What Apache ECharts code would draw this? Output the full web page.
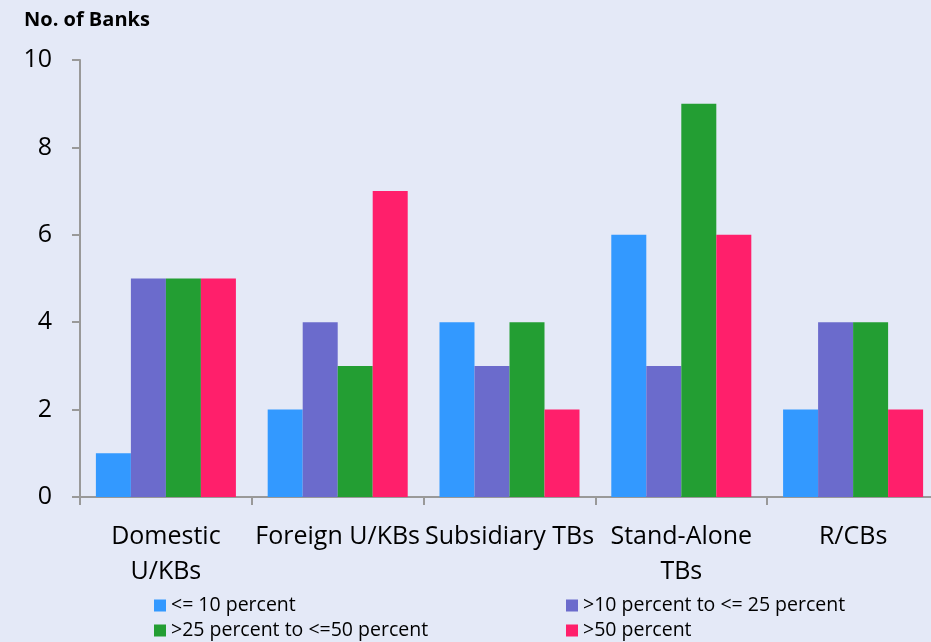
<!DOCTYPE html>
<html>
<head>
<meta charset="utf-8">
<script src="https://cdn.jsdelivr.net/npm/echarts@6/dist/echarts.min.js"></script>
<style>
  html, body { margin: 0; padding: 0; background: #e4e9f7; }
  #chart { width: 931px; height: 642px; }
</style>
</head>
<body>
<div id="chart"></div>
<script>
// Bank groups on the category axis
const categories = ['Domestic\nU/KBs', 'Foreign U/KBs', 'Subsidiary TBs', 'Stand-Alone\nTBs', 'R/CBs'];

// Number of banks in each share band
const seriesNames = ['<= 10 percent', '>10 percent to <= 25 percent', '>25 percent to <=50 percent', '>50 percent'];
const upTo10 = [1, 2, 4, 6, 2];
const from10to25 = [5, 4, 3, 3, 4];
const from25to50 = [5, 3, 4, 9, 4];
const above50 = [5, 7, 2, 6, 2];

const yTicks = { min: 0, max: 10, interval: 2 };

const colors = ['#3399ff', '#6b6bcc', '#239e33', '#ff1f6b'];
const values = [upTo10, from10to25, from25to50, above50];
const font = '"Open Sans", "Noto Sans", sans-serif';

const legendStyle = {
  orient: 'vertical', top: 595, height: 60, padding: 0,
  itemWidth: 12, itemHeight: 12, itemGap: 4,
  icon: 'rect',
  textStyle: { fontFamily: font, fontSize: 19.5, color: '#000', lineHeight: 21 }
};

const chart = echarts.init(document.getElementById('chart'));
chart.setOption({
  backgroundColor: '#e4e9f7',
  animation: false,
  title: {
    text: 'No. of Banks',
    left: 19, top: 5,
    textStyle: { fontFamily: font, fontWeight: 'bold', fontSize: 20, color: '#000' }
  },
  legend: [
    Object.assign({ data: [seriesNames[0], seriesNames[2]], left: 154 }, legendStyle),
    Object.assign({ data: [seriesNames[1], seriesNames[3]], left: 566 }, legendStyle)
  ],
  // plot area runs a little past the right edge of the canvas
  grid: {
    left: 80, width: 859, top: 60, bottom: 145,
    containLabel: false, outerBoundsMode: 'none'
  },
  xAxis: {
    type: 'category',
    data: categories,
    axisLine: { lineStyle: { color: '#999', width: 2 } },
    axisTick: { show: true, length: 8, lineStyle: { color: '#999', width: 2 } },
    axisLabel: {
      fontFamily: font, fontSize: 25, color: '#000',
      margin: 22, lineHeight: 35, interval: 0
    }
  },
  yAxis: {
    type: 'value',
    min: yTicks.min, max: yTicks.max, interval: yTicks.interval,
    splitLine: { show: false },
    axisLine: { show: true, lineStyle: { color: '#999', width: 2 } },
    axisTick: { show: true, length: 8, lineStyle: { color: '#999', width: 2 } },
    axisLabel: { fontFamily: font, fontSize: 25, color: '#000', margin: 28 }
  },
  series: seriesNames.map((name, i) => ({
    name,
    type: 'bar',
    data: values[i],
    barGap: '0%',
    barCategoryGap: '18.5%',
    itemStyle: { color: colors[i] }
  }))
});
</script>
</body>
</html>
